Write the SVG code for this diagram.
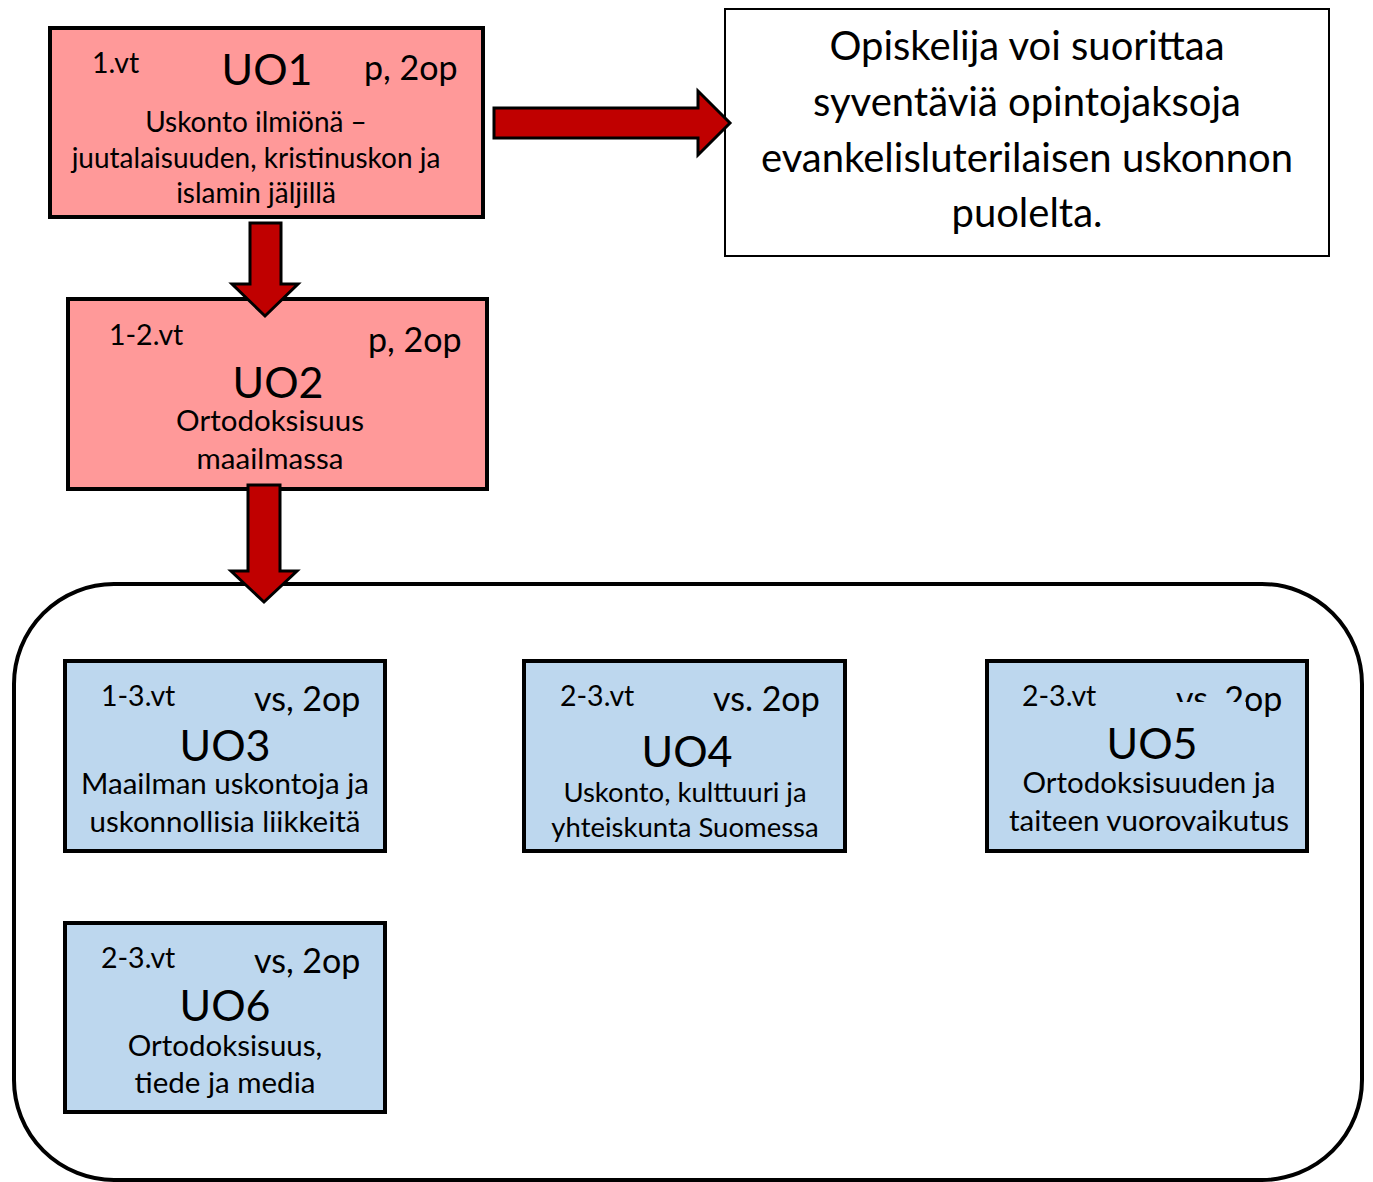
<svg xmlns="http://www.w3.org/2000/svg" width="1373" height="1182" viewBox="0 0 1373 1182">
<style>
text { font-family: Lato, "Open Sans", sans-serif; fill: #000; }
.red { fill: #FF9999; stroke: #000; stroke-width: 4; }
.blue { fill: #BDD7EE; stroke: #000; stroke-width: 4; }
.arrow { fill: #C00000; stroke: #000; stroke-width: 3; stroke-linejoin: miter; }
.sm { font-size: 28.5px; }
.op { font-size: 34px; }
.big { font-size: 43px; }
.body { font-size: 29.5px; }
.mid { text-anchor: middle; }
.note { font-size: 40px; text-anchor: middle; }
</style>
<rect width="1373" height="1182" fill="#fff"/>

<g id="group-container">
  <rect x="14" y="584" width="1348" height="596" rx="100" ry="100" fill="none" stroke="#000" stroke-width="4"/>
</g>

<g id="note">
  <rect x="725" y="9" width="604" height="247" fill="#fff" stroke="#000" stroke-width="2"/>
  <text class="note" x="1027" y="60">Opiskelija voi suorittaa</text>
  <text class="note" x="1027" y="116">syventäviä opintojaksoja</text>
  <text class="note" x="1027" y="172">evankelisluterilaisen uskonnon</text>
  <text class="note" x="1027" y="227">puolelta.</text>
</g>

<g id="UO1">
  <rect class="red" x="50" y="28" width="433" height="189"/>
  <text class="sm" x="92" y="73">1.vt</text>
  <text class="big mid" x="267" y="85">UO1</text>
  <text class="op" x="364" y="80">p, 2op</text>
  <text class="body mid" x="256" y="132" style="font-size:28px">Uskonto ilmiönä –</text>
  <text class="body mid" x="256" y="168" style="font-size:28px">juutalaisuuden, kristinuskon ja</text>
  <text class="body mid" x="256" y="203" style="font-size:28px">islamin jäljillä</text>
</g>

<g id="UO2">
  <rect class="red" x="68" y="299" width="419" height="190"/>
  <text class="sm" x="109" y="345">1-2.vt</text>
  <text class="op" x="368" y="352">p, 2op</text>
  <text class="big mid" x="278" y="398">UO2</text>
  <text class="body mid" x="270" y="431">Ortodoksisuus</text>
  <text class="body mid" x="270" y="469">maailmassa</text>
</g>

<g id="UO3">
  <rect class="blue" x="65" y="661" width="320" height="190"/>
  <text class="sm" x="101" y="706">1-3.vt</text>
  <text class="op" x="254" y="711">vs, 2op</text>
  <text class="big mid" x="225" y="761">UO3</text>
  <text class="body mid" x="225" y="794">Maailman uskontoja ja</text>
  <text class="body mid" x="225" y="832">uskonnollisia liikkeitä</text>
</g>

<g id="UO4">
  <rect class="blue" x="524" y="661" width="321" height="190"/>
  <text class="sm" x="560" y="706">2-3.vt</text>
  <text class="op" x="713" y="711">vs. 2op</text>
  <text class="big mid" x="687" y="767">UO4</text>
  <text class="body mid" x="685" y="802" style="font-size:27.5px">Uskonto, kulttuuri ja</text>
  <text class="body mid" x="685" y="837" style="font-size:27.5px">yhteiskunta Suomessa</text>
</g>

<g id="UO5">
  <rect class="blue" x="987" y="661" width="320" height="190"/>
  <text class="sm" x="1022" y="706">2-3.vt</text>
  <text class="op" x="1176" y="711">vs, 2op</text>
  <rect x="1168" y="702" width="78" height="16" fill="#BDD7EE"/>
  <text class="big mid" x="1152" y="759">UO5</text>
  <text class="body mid" x="1149" y="793">Ortodoksisuuden ja</text>
  <text class="body mid" x="1149" y="831">taiteen vuorovaikutus</text>
</g>

<g id="UO6">
  <rect class="blue" x="65" y="923" width="320" height="189"/>
  <text class="sm" x="101" y="968">2-3.vt</text>
  <text class="op" x="254" y="973">vs, 2op</text>
  <text class="big mid" x="225" y="1021">UO6</text>
  <text class="body mid" x="225" y="1056">Ortodoksisuus,</text>
  <text class="body mid" x="225" y="1093">tiede ja media</text>
</g>

<g id="connectors">
  <polygon class="arrow" points="494,108 698,108 698,91 730,123 698,155 698,138 494,138"/>
  <polygon class="arrow" points="250,223 281,223 281,284 298,284 265,316 232,284 250,284"/>
  <polygon class="arrow" points="248,485 280,485 280,571 297,571 264,602 231,571 248,571"/>
</g>
</svg>
